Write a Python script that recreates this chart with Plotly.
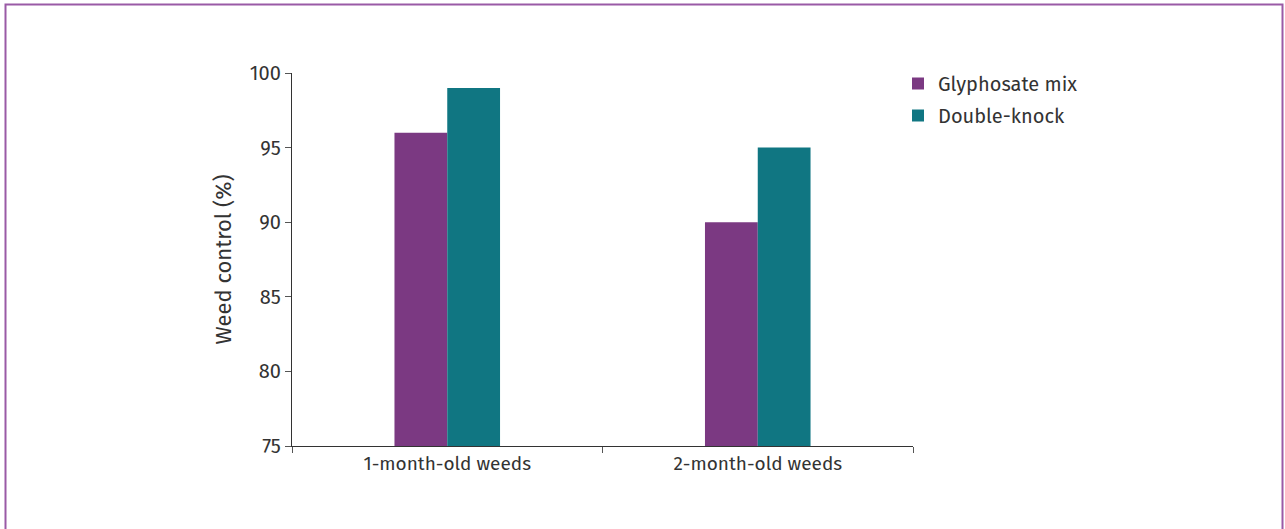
import plotly.graph_objects as go

categories = ["1-month-old weeds", "2-month-old weeds"]
glyphosate_mix = [96, 90]
double_knock = [99, 95]
y_ticks = [75, 80, 85, 90, 95, 100]

W, H = 1285, 529
L, R, T, B = 292, 913, 73, 446

fig = go.Figure()
fig.add_trace(go.Bar(name="Glyphosate mix", x=categories, y=glyphosate_mix,
                     legendgroup="g1",
                     marker=dict(color="#7B3982", line=dict(width=0))))
fig.add_trace(go.Bar(name="Double-knock", x=categories, y=double_knock,
                     legendgroup="g2",
                     marker=dict(color="#107682", line=dict(width=0))))

font_family = "Fira Sans, Open Sans, Noto Sans, sans-serif"

# Outer frame around the whole figure, in paper coordinates
pw, ph = R - L, B - T
def px_x(x):
    return (x - L) / pw
def px_y(y):
    return (B - y) / ph

fig.add_shape(type="rect", xref="paper", yref="paper",
              x0=px_x(5.5), x1=px_x(1282.5), y0=px_y(540), y1=px_y(4.5),
              line=dict(color="#9A5AA6", width=2), fillcolor="rgba(0,0,0,0)",
              layer="below")

fig.update_layout(
    width=W, height=H,
    margin=dict(l=L, r=W - R, t=T, b=H - B, pad=0),
    barmode="group", bargap=0.66, bargroupgap=0,
    plot_bgcolor="white", paper_bgcolor="white",
    font=dict(family=font_family, color="#333333", size=18),
    legend=dict(x=px_x(898), y=px_y(64), xanchor="left", yanchor="top",
                font=dict(size=20, color="#333333"), itemwidth=30,
                traceorder="grouped", tracegroupgap=3,
                bgcolor="rgba(0,0,0,0)"),
    xaxis=dict(showline=True, linecolor="#333333", linewidth=1.3,
               ticks="outside", ticklen=6, tickcolor="#555555",
               tickson="boundaries", tickfont=dict(size=19, color="#333333"),
               showgrid=False),
    yaxis=dict(range=[75, 100], tickvals=y_ticks, showline=True,
               linecolor="#333333", linewidth=1.3, ticks="outside", ticklen=6,
               tickcolor="#555555", showgrid=False, zeroline=False,
               tickfont=dict(size=20, color="#333333"),
               title=dict(text="Weed control (%)", font=dict(size=22, color="#333333"),
                          standoff=12)),
)

fig.write_html("out.html")
